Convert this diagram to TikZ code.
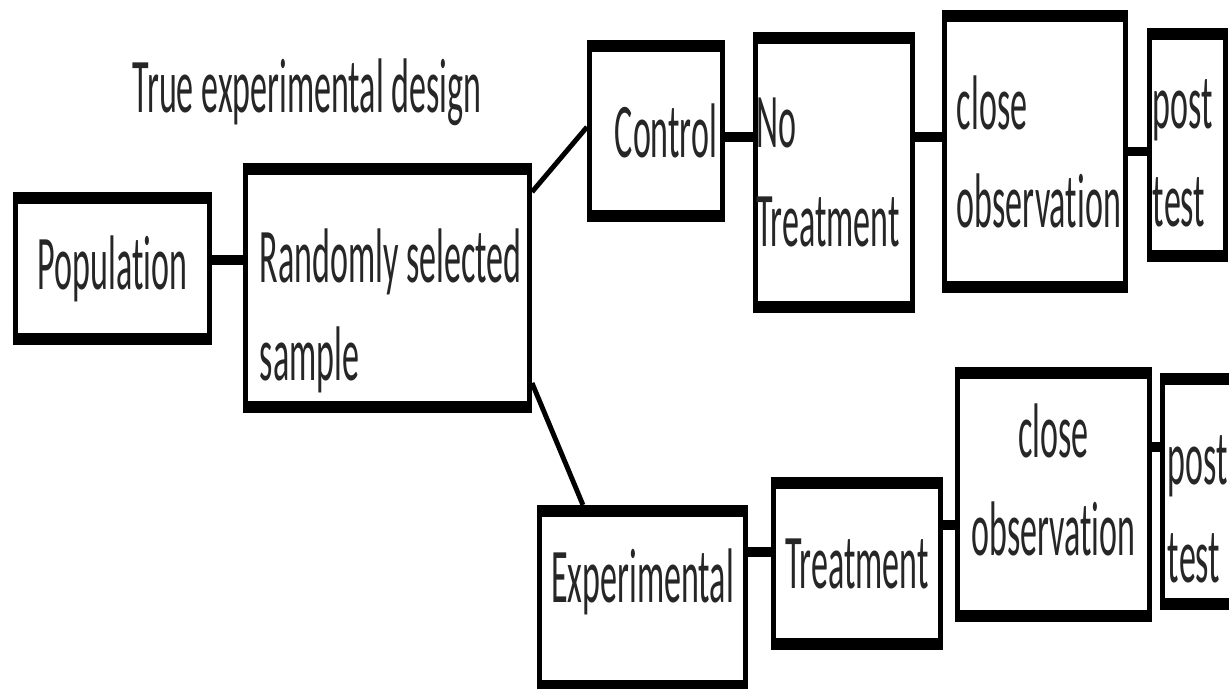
\documentclass[tikz,border=0pt]{standalone}
\usepackage{fontspec}
\setmainfont{Carlito}[FakeStretch=0.44, Ligatures=NoCommon]
\usetikzlibrary{positioning}

\begin{document}
\begin{tikzpicture}[x=0.01cm, y=-0.01cm,
                    every node/.style={font=\fontsize{22pt}{27.9pt}\selectfont, text=black!85},
                    box/.style={draw, line width=1.4pt, inner ysep=0pt},
                    rim/.style={line width=3.4pt},
                    link/.style={line width=2.8pt},
                    slant/.style={line width=1.4pt}]

  \useasboundingbox[fill=white] (0,0) rectangle (1229,689);
  \clip (0,0) rectangle (1229,689);

  \node[anchor=base west, inner sep=0pt] (title) at (132,113) {True experimental design};

  \node[box, minimum width=1.94cm, minimum height=1.48cm, align=center] (pop) at (112.5,268.5) {Population};
  \node[box, minimum width=2.84cm, minimum height=2.45cm, inner xsep=0.145cm, text width=2.55cm,
        align=left, text height=1.0cm] (smp) at (387.5,288) {\spaceskip=0pt\mbox{Randomly selected}\\sample};

  % control branch
  \node[box, minimum width=1.33cm, minimum height=1.77cm, inner xsep=0.055cm, text width=1.22cm,
        align=right] (ctl) at (656,131) {Control};
  \node[box, minimum width=1.57cm, minimum height=2.76cm, inner xsep=0.01cm, text width=1.55cm,
        align=left] (notr) at (834,172.5) {No\\Treatment};
  \node[box, minimum width=1.81cm, minimum height=2.78cm, inner xsep=0.125cm, text width=1.56cm,
        align=left] (obsA) at (1035,151.5) {close\\observation};
  \node[box, minimum width=0.76cm, minimum height=2.29cm, inner xsep=0.035cm, text width=0.69cm,
        align=left, text height=0.65cm] (postA) at (1187.5,145) {post\\test};

  % experimental branch
  \node[box, minimum width=2.04cm, minimum height=1.82cm, align=center, text depth=0.45cm] (expt) at (642.5,598.5) {Experimental};
  \node[box, minimum width=1.55cm, minimum height=1.68cm, align=center] (trt) at (857,563.5) {Treatment};
  \node[box, minimum width=1.92cm, minimum height=2.50cm, align=center, text depth=0.3cm] (obsB) at (1053.5,494.5) {close\\observation};
  \node[box, minimum width=0.80cm, minimum height=2.32cm, inner xsep=0.055cm, text width=0.69cm,
        align=left, text height=0.85cm] (postB) at (1202.5,491.5) {post\\test};

  % heavy top and bottom edges
  \foreach \b in {pop,smp,ctl,notr,obsA,postA,expt,trt,obsB,postB}
    \draw[rim] ([yshift=-1.7pt]\b.north west) -- ([yshift=-1.7pt]\b.north east)
               ([yshift=1.7pt]\b.south west) -- ([yshift=1.7pt]\b.south east);

  \draw[link] ([yshift=0.085cm]pop.east) -- ([yshift=0.085cm]pop.east -| smp.west);
  \draw[slant] ([yshift=0.96cm]smp.east) -- ([yshift=0.04cm]ctl.west);
  \draw[slant] ([yshift=-0.95cm]smp.east) -- ([xshift=-0.595cm]expt.north);

  \draw[link] ([yshift=-0.06cm]ctl.east) -- ([yshift=-0.06cm]ctl.east -| notr.west);
  \draw[link] ([yshift=0.355cm]notr.east) -- ([yshift=0.355cm]notr.east -| obsA.west);
  \draw[link] (obsA.east) -- (obsA.east -| postA.west);

  \draw[link] ([yshift=0.465cm]expt.east) -- ([yshift=0.465cm]expt.east -| trt.west);
  \draw[link] ([yshift=0.385cm]trt.east) -- ([yshift=0.385cm]trt.east -| obsB.west);
  \draw[link] ([yshift=0.475cm]obsB.east) -- ([yshift=0.475cm]obsB.east -| postB.west);
\end{tikzpicture}
\end{document}
